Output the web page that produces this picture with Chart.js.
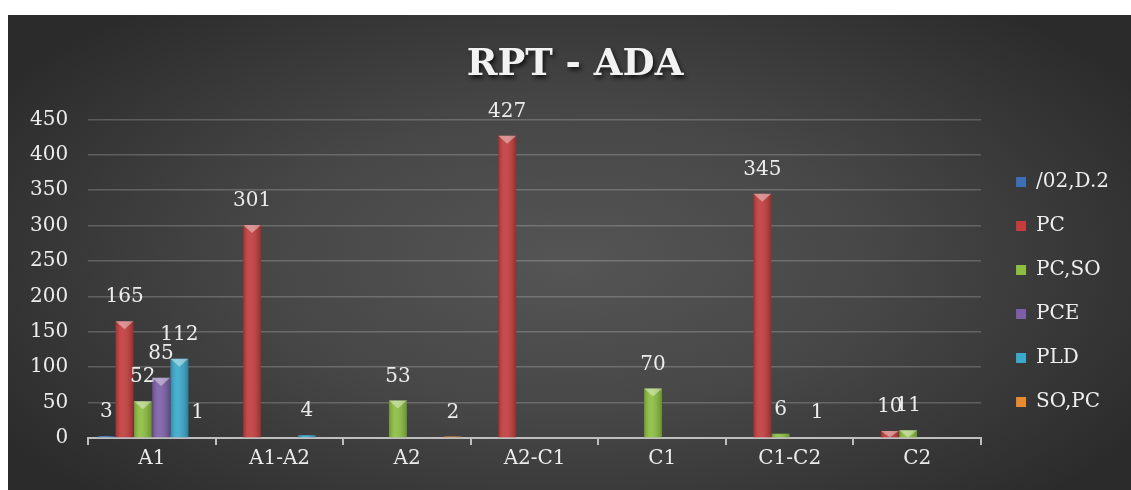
<!DOCTYPE html>
<html>
<head>
<meta charset="utf-8">
<script src="https://cdn.jsdelivr.net/npm/chart.js@4.4.1/dist/chart.umd.min.js"></script>
<style>
  html, body { margin: 0; padding: 0; background: #fff; }
  #wrap {
    position: absolute; left: 8px; top: 15px; width: 1123px; height: 475px;
    background: radial-gradient(ellipse 60% 70% at 50% 52%, #555 0%, #474747 45%, #2b2b2b 100%);
  }
</style>
</head>
<body>
<div id="wrap"><canvas id="rpt"></canvas></div>
<script>
// categories and series
const categories = ['A1', 'A1-A2', 'A2', 'A2-C1', 'C1', 'C1-C2', 'C2'];
const d02 = [3, null, null, null, null, null, null];
const pc = [165, 301, null, 427, null, 345, 10];
const pcSo = [52, null, 53, null, 70, 6, 11];
const pce = [85, null, null, null, null, null, null];
const pld = [112, 4, null, null, null, 1, null];
const soPc = [1, null, 2, null, null, null, null];

const serif = '"DejaVu Serif", serif';
const textSize = 20;

// value labels above each bar, plus a bit of 3D shading
const valueLabels = {
    id: 'valueLabels',
    afterDatasetsDraw(chart) {
        const ctx = chart.ctx;
        ctx.save();
        chart.data.datasets.forEach((ds, i) => {
            const meta = chart.getDatasetMeta(i);
            meta.data.forEach((bar, j) => {
                const v = ds.data[j];
                if (v === null || v === undefined) return;
                const w = bar.width, left = bar.x - w / 2, h = bar.base - bar.y;
                const g = ctx.createLinearGradient(left, 0, left + w, 0);
                g.addColorStop(0, 'rgba(0,0,0,0.22)');
                g.addColorStop(0.35, 'rgba(255,255,255,0.08)');
                g.addColorStop(1, 'rgba(0,0,0,0.25)');
                ctx.fillStyle = g;
                ctx.fillRect(left, bar.y, w, h);
                if (h > 4) {
                    ctx.fillStyle = 'rgba(255,255,255,0.4)';
                    ctx.beginPath();
                    ctx.moveTo(left, bar.y);
                    ctx.lineTo(left + w, bar.y);
                    ctx.lineTo(bar.x, bar.y + Math.min(w * 0.45, h));
                    ctx.closePath();
                    ctx.fill();
                }
                ctx.fillStyle = '#ececec';
                ctx.font = textSize + 'px ' + serif;
                ctx.textAlign = 'center';
                ctx.textBaseline = 'bottom';
                ctx.fillText(v, bar.x, bar.y - 14);
            });
        });
        ctx.restore();
    }
};

// nudge legend and title to where the original has them, shadow on the title
const boxTweaks = {
    id: 'boxTweaks',
    afterLayout(chart) {
        const lg = chart.legend;
        if (lg) {
            lg.left += 11; lg.right += 11;
            lg.top += 43; lg.bottom += 43;
        }
        const tb = chart.titleBlock;
        if (tb) {
            tb.left += 16; tb.right += 16;
            tb.top += 2; tb.bottom += 2;
            if (!tb._shadowed) {
                const orig = tb.draw;
                tb.draw = function () {
                    const c = chart.ctx;
                    c.save();
                    c.shadowColor = 'rgba(0,0,0,0.7)';
                    c.shadowOffsetX = 2;
                    c.shadowOffsetY = 3;
                    c.shadowBlur = 4;
                    orig.apply(this, arguments);
                    c.restore();
                };
                tb._shadowed = true;
            }
        }
    }
};

const ctx = document.getElementById('rpt').getContext('2d');
new Chart(ctx, {
    type: 'bar',
    data: {
        labels: categories,
        datasets: [
            { label: '/02,D.2', data: d02, backgroundColor: '#3d6fb6' },
            { label: 'PC', data: pc, backgroundColor: '#c43c3c' },
            { label: 'PC,SO', data: pcSo, backgroundColor: '#8cbf3f' },
            { label: 'PCE', data: pce, backgroundColor: '#7d5fa8' },
            { label: 'PLD', data: pld, backgroundColor: '#3aa9cc' },
            { label: 'SO,PC', data: soPc, backgroundColor: '#e88b30' },
        ]
    },
    options: {
        responsive: true,
        maintainAspectRatio: false,
        animation: false,
        datasets: {
            bar: { categoryPercentage: 0.86, barPercentage: 0.98 }
        },
        layout: { padding: { left: 2, right: 23, bottom: 17, top: 10 } },
        plugins: {
            title: {
                display: true,
                text: 'RPT - ADA',
                color: '#f2f2f2',
                font: { family: serif, size: 37, weight: 'bold' },
                padding: { top: 16, bottom: 34 }
            },
            legend: {
                position: 'right',
                labels: {
                    color: '#eeeeee',
                    font: { family: serif, size: textSize },
                    boxWidth: 10,
                    boxHeight: 10,
                    padding: 24
                }
            },
            tooltip: { enabled: false }
        },
        scales: {
            x: {
                grid: { drawOnChartArea: false, drawTicks: true, tickLength: 7, color: '#bfbfbf', lineWidth: 2 },
                border: { color: '#bfbfbf', width: 2 },
                ticks: { color: '#ececec', font: { family: serif, size: textSize }, padding: 2 }
            },
            y: {
                min: 0,
                max: 450,
                ticks: { stepSize: 50, color: '#ececec', font: { family: serif, size: textSize }, padding: 20 },
                grid: { color: 'rgba(255,255,255,0.2)', lineWidth: 1.5, drawTicks: false },
                border: { display: false }
            }
        }
    },
    plugins: [valueLabels, boxTweaks]
});
</script>
</body>
</html>
